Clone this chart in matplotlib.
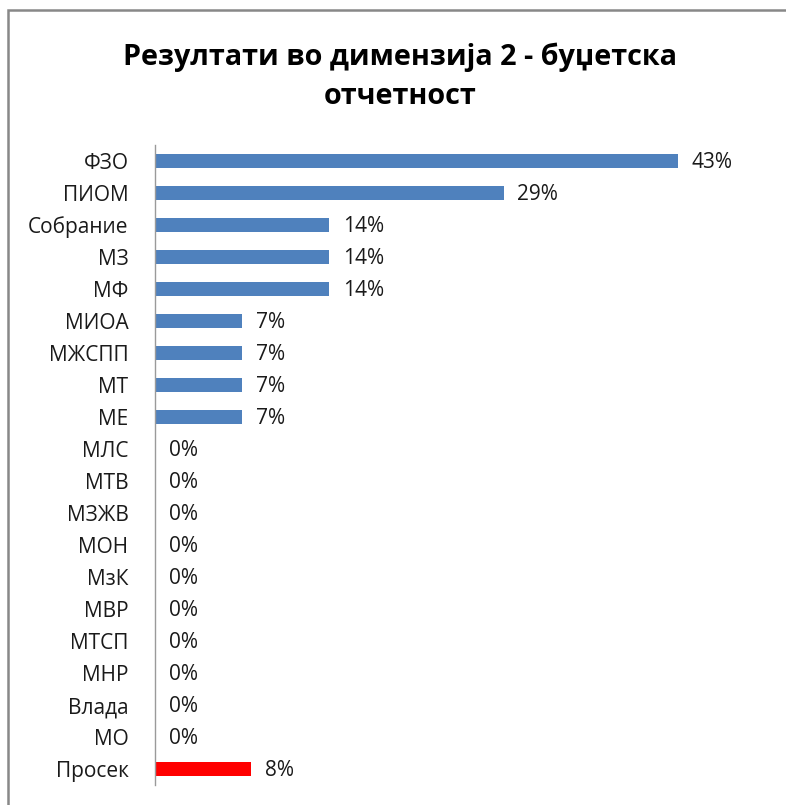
import matplotlib
matplotlib.use("Agg")
import matplotlib.pyplot as plt
from matplotlib.patches import Rectangle

categories = ["ФЗО", "ПИОМ", "Собрание", "МЗ", "МФ", "МИОА", "МЖСПП", "МТ", "МЕ",
              "МЛС", "МТВ", "МЗЖВ", "МОН", "МзК", "МВР", "МТСП", "МНР", "Влада", "МО", "Просек"]
values = [42.86, 28.57, 14.29, 14.29, 14.29, 7.14, 7.14, 7.14, 7.14,
          0, 0, 0, 0, 0, 0, 0, 0, 0, 0, 7.9]
labels = ["43%", "29%", "14%", "14%", "14%", "7%", "7%", "7%", "7%",
          "0%", "0%", "0%", "0%", "0%", "0%", "0%", "0%", "0%", "0%", "8%"]
colors = ["#4F81BD"] * 19 + ["#FF0000"]
title = "Резултати во димензија 2 - буџетска\nотчетност"

plt.rcParams['font.family'] = ['Open Sans', 'DejaVu Sans']

W, H = 786, 805
fig = plt.figure(figsize=(W / 100, H / 100), dpi=100)
# axes: x from 155 to 765 px, y from 145 to 785 px
ax = fig.add_axes([155 / W, 1 - 785 / H, 610 / W, 640 / H])

y = list(range(len(categories)))
ax.barh(y, values, height=0.41, color=colors, zorder=2)
ax.set_ylim(len(categories) - 0.5, -0.5)
ax.set_xlim(0, 50)
ax.set_yticks(y)
ax.set_yticklabels(categories, fontsize=15, color="#1a1a1a")
ax.tick_params(axis='y', length=0, pad=19)
ax.set_xticks([])
for s in ["top", "right", "bottom"]:
    ax.spines[s].set_visible(False)
ax.spines["left"].set_color("#9a9a9a")
ax.spines["left"].set_linewidth(1.0)

for yi, v, lab in zip(y, values, labels):
    ax.annotate(lab, (v, yi), xytext=(10, -1.2), textcoords="offset points",
                va="center", ha="left", fontsize=15, color="#1a1a1a")

fig.text(400 / W, 1 - 77 / H, title, ha="center", va="center", fontsize=20.7,
         fontweight="bold", linespacing=1.45, color="black")

fig.patches.append(Rectangle((8 / W, -0.1), 1.2, 1 - 10 / H + 0.1, transform=fig.transFigure,
                             fill=False, edgecolor="#888888", linewidth=1.8))

fig.savefig("out.png", dpi=100)
